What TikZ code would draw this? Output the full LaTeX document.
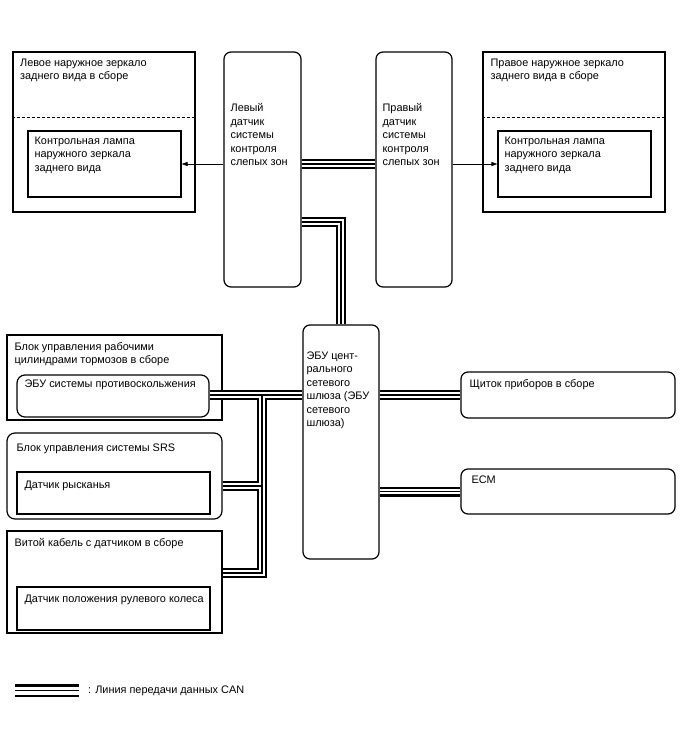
\documentclass[tikz,border=0pt]{standalone}
\usepackage{fontspec}
\setmainfont{Liberation Sans}
\usetikzlibrary{arrows.meta}

\begin{document}
\begin{tikzpicture}[x=1pt,y=-1pt]
\tikzset{
  unitbox/.style={draw,line width=1.2pt,inner sep=0pt},
  roundbox/.style={unitbox,rounded corners=7pt},
  boxlabel/.style={anchor=north west,inner sep=0pt,align=left,font=\fontsize{10.9}{13.5}\selectfont,execute at begin node=\strut},
  signal/.style={-{Triangle[length=6pt,width=4pt]},line width=0.7pt},
  canouter/.style={line width=10pt,black},
  cangap/.style={line width=5.6pt,white},
  cancore/.style={line width=1.2pt,black}
}
\useasboundingbox (0,0) rectangle (688,755);

% mirrors and blind spot sensors
\node[unitbox,minimum width=182pt,minimum height=160pt] (lmirror) at (104,132) {};
\node[unitbox,minimum width=153pt,minimum height=66pt] (llamp) at (104.5,164) {};
\node[roundbox,minimum width=77pt,minimum height=235pt] (lbsm) at (262.5,169.5) {};
\node[roundbox,minimum width=76pt,minimum height=235pt] (rbsm) at (414,169.5) {};
\node[unitbox,minimum width=182pt,minimum height=160pt] (rmirror) at (574,132) {};
\node[unitbox,minimum width=153pt,minimum height=66pt] (rlamp) at (574.5,164) {};
\draw[dashed,line width=0.8pt,dash pattern=on 3pt off 2pt] ([yshift=15pt]lmirror.west) -- ([yshift=15pt]lmirror.east);
\draw[dashed,line width=0.8pt,dash pattern=on 3pt off 2pt] ([yshift=15pt]rmirror.west) -- ([yshift=15pt]rmirror.east);

% gateway, meter, ECM
\node[roundbox,minimum width=76pt,minimum height=234pt] (gateway) at (341,442) {};
\node[roundbox,minimum width=214pt,minimum height=46pt] (meter) at (568,395) {};
\node[roundbox,minimum width=214pt,minimum height=45pt] (ecm) at (568,491.5) {};

% left column
\node[unitbox,minimum width=215pt,minimum height=85pt] (brake) at (114.5,377.5) {};
\node[unitbox,rounded corners=8pt,minimum width=192pt,minimum height=42pt] (abs) at (113,396) {};
\node[unitbox,rounded corners=8pt,minimum width=215pt,minimum height=86pt] (srs) at (114.5,476) {};
\node[unitbox,minimum width=193pt,minimum height=42pt] (yaw) at (113.5,493) {};
\node[unitbox,minimum width=215pt,minimum height=102pt] (spiral) at (114.5,582) {};
\node[unitbox,minimum width=193pt,minimum height=43pt] (steer) at (113.5,608.5) {};

% labels
\node[boxlabel] (lmirror_t) at ([shift={(7.5pt,-7pt)}]lmirror.north west) {Левое наружное зеркало\\заднего вида в сборе};
\node[boxlabel] (llamp_t) at ([shift={(7pt,-6pt)}]llamp.north west) {Контрольная лампа\\наружного зеркала\\заднего вида};
\node[boxlabel] (rmirror_t) at ([shift={(8pt,-7pt)}]rmirror.north west) {Правое наружное зеркало\\заднего вида в сборе};
\node[boxlabel] (rlamp_t) at ([shift={(7pt,-6pt)}]rlamp.north west) {Контрольная лампа\\наружного зеркала\\заднего вида};
\node[boxlabel] (lbsm_t) at ([shift={(7pt,-52pt)}]lbsm.north west) {Левый\\датчик\\системы\\контроля\\слепых зон};
\node[boxlabel] (rbsm_t) at ([shift={(7pt,-52pt)}]rbsm.north west) {Правый\\датчик\\системы\\контроля\\слепых зон};
\node[boxlabel] (gateway_t) at ([shift={(4pt,-27pt)}]gateway.north west) {ЭБУ цент-\\рального\\сетевого\\шлюза (ЭБУ\\сетевого\\шлюза)};
\node[boxlabel] (meter_t) at ([shift={(9pt,-6pt)}]meter.north west) {Щиток приборов в сборе};
\node[boxlabel] (ecm_t) at ([shift={(11pt,-5pt)}]ecm.north west) {ECM};
\node[boxlabel] (brake_t) at ([shift={(8pt,-7.5pt)}]brake.north west) {Блок управления рабочими\\цилиндрами тормозов в сборе};
\node[boxlabel] (abs_t) at ([shift={(8pt,-3pt)}]abs.north west) {ЭБУ системы противоскольжения};
\node[boxlabel] (srs_t) at ([shift={(10pt,-9pt)}]srs.north west) {Блок управления системы SRS};
\node[boxlabel] (yaw_t) at ([shift={(8pt,-7pt)}]yaw.north west) {Датчик рысканья};
\node[boxlabel] (spiral_t) at ([shift={(8pt,-6pt)}]spiral.north west) {Витой кабель с датчиком в сборе};
\node[boxlabel] (steer_t) at ([shift={(8pt,-6.5pt)}]steer.north west) {Датчик положения рулевого колеса};

% indicator signals
\draw[signal] (lbsm.west |- llamp.east) -- (llamp.east);
\draw[signal] (rbsm.east |- rlamp.west) -- (rlamp.west);

% CAN lines
\coordinate (gwbend) at (341,222);
\coordinate (tap) at (262,395);
\coordinate (yawtap) at (262,486);
\coordinate (steerbend) at (262,573);
\foreach \layer in {canouter,cangap,cancore}{
  \draw[\layer] (lbsm.east |- llamp.east) -- (rbsm.west |- llamp.east);
  \draw[\layer] (lbsm.east |- gwbend) -- (gwbend) -- (gateway.north);
  \draw[\layer] (abs.east |- tap) -- (gateway.west |- tap);
  \draw[\layer] (gateway.east |- meter.west) -- (meter.west);
  \draw[\layer] (gateway.east |- ecm.west) -- (ecm.west);
  \draw[\layer] (tap) -- (steerbend) -- (spiral.east |- steerbend);
  \draw[\layer] (srs.east |- yawtap) -- (yawtap);
}

% legend
\coordinate (canl) at (15,690.7);
\coordinate (canr) at (79,690.7);
\draw[line width=13pt] (canl) -- (canr);
\draw[white,line width=8pt] (canl) -- (canr);
\draw[line width=1.3pt] (canl) -- (canr);
\node[boxlabel,anchor=west] (legend_t) at (88,691) {: Линия передачи данных CAN};
\end{tikzpicture}
\end{document}
